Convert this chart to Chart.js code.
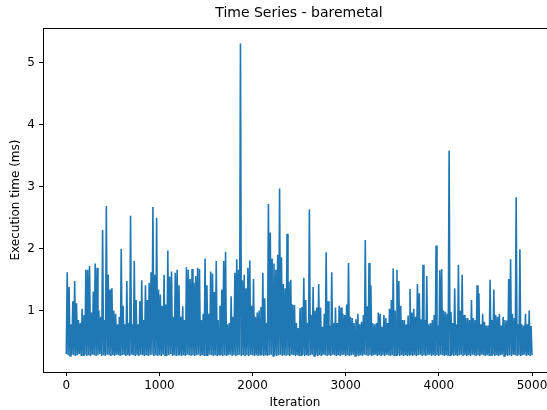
<!DOCTYPE html>
<html>
<head>
<meta charset="utf-8">
<script src="https://cdn.jsdelivr.net/npm/chart.js@4.4.1/dist/chart.umd.min.js"></script>
<style>
  html, body { margin: 0; padding: 0; background: #fff; }
  canvas { display: block; }
</style>
</head>
<body>
<canvas id="chart" width="547" height="410"></canvas>
<script>
// iteration step of one sample pair (trough at i*20, peak at i*20+10)
const step = 20;
const xTicks = [0, 1000, 2000, 3000, 4000, 5000];
const yTicks = [1, 2, 3, 4, 5];

// upper envelope, one value per 20 iterations (ms)
const peaks = [
  1.62, 1.38, 0.78, 1.15, 1.48, 1.12, 0.85, 0.80, 1.03, 0.93,
  1.66, 1.66, 1.72, 0.97, 1.31, 1.76, 1.69, 1.00, 0.90, 2.30,
  0.85, 2.69, 1.58, 1.34, 1.36, 1.00, 0.95, 0.78, 0.90, 2.00,
  1.08, 0.78, 1.48, 0.80, 2.53, 0.78, 1.80, 1.17, 0.78, 1.15,
  1.49, 0.85, 1.41, 1.17, 1.45, 1.62, 2.67, 1.58, 2.50, 1.34,
  1.26, 1.08, 1.58, 1.10, 1.97, 1.55, 1.63, 0.90, 1.61, 1.66,
  1.41, 0.90, 1.07, 0.85, 1.70, 1.66, 1.51, 1.67, 1.45, 1.56,
  1.69, 1.67, 0.85, 0.95, 1.84, 1.41, 0.95, 1.63, 1.60, 1.30,
  1.80, 0.85, 1.08, 1.34, 1.80, 1.95, 0.78, 0.80, 1.23, 0.90,
  1.61, 1.83, 1.66, 5.31, 1.49, 1.58, 1.36, 1.69, 1.81, 1.08,
  1.51, 0.90, 0.97, 1.00, 1.06, 1.61, 1.20, 0.80, 2.72, 2.26,
  1.84, 1.76, 1.66, 1.90, 2.97, 1.86, 1.43, 1.36, 2.24, 1.47,
  1.50, 1.10, 1.09, 0.80, 0.72, 1.04, 1.06, 1.53, 1.17, 0.80,
  2.63, 0.93, 1.38, 1.00, 1.05, 1.43, 1.05, 0.74, 0.95, 1.94,
  1.15, 0.76, 1.62, 0.80, 1.05, 0.80, 1.08, 1.05, 0.95, 0.93,
  1.10, 1.77, 0.90, 0.88, 0.80, 0.86, 0.95, 0.78, 0.82, 0.93,
  2.14, 1.07, 1.77, 1.41, 0.80, 0.78, 0.80, 0.97, 0.95, 0.74,
  0.93, 0.88, 0.80, 1.03, 1.17, 1.68, 1.00, 1.66, 1.48, 1.08,
  0.85, 0.85, 0.78, 0.92, 1.35, 0.97, 1.03, 0.90, 1.43, 1.28,
  0.86, 1.74, 0.85, 1.56, 0.78, 0.80, 0.85, 0.93, 2.05, 0.76,
  1.65, 1.67, 1.00, 0.98, 0.95, 3.58, 0.98, 0.80, 1.36, 0.78,
  1.74, 1.00, 1.58, 0.93, 0.88, 0.88, 0.85, 1.17, 0.88, 0.85,
  1.41, 1.28, 0.78, 0.95, 0.82, 0.76, 0.76, 1.50, 0.85, 1.34,
  0.93, 0.90, 0.95, 0.76, 0.90, 0.85, 0.84, 1.51, 1.83, 0.95,
  0.88, 2.83, 0.78, 1.99, 0.78, 0.76, 0.95, 0.78, 1.00, 0.75
];

// lower envelope, one value per 20 iterations (ms)
const troughs = [
  0.30, 0.28, 0.27, 0.29, 0.28, 0.27, 0.28, 0.30, 0.27, 0.28,
  0.29, 0.27, 0.28, 0.27, 0.29, 0.28, 0.27, 0.28, 0.30, 0.27,
  0.28, 0.27, 0.29, 0.28, 0.27, 0.28, 0.27, 0.29, 0.28, 0.27,
  0.28, 0.30, 0.27, 0.28, 0.27, 0.29, 0.28, 0.27, 0.28, 0.27,
  0.29, 0.28, 0.27, 0.28, 0.27, 0.28, 0.29, 0.27, 0.28, 0.27,
  0.28, 0.27, 0.29, 0.28, 0.27, 0.28, 0.30, 0.27, 0.28, 0.27,
  0.29, 0.28, 0.27, 0.28, 0.27, 0.29, 0.28, 0.27, 0.28, 0.27,
  0.28, 0.29, 0.27, 0.28, 0.27, 0.28, 0.27, 0.29, 0.28, 0.27,
  0.28, 0.27, 0.29, 0.28, 0.27, 0.28, 0.27, 0.28, 0.29, 0.27,
  0.28, 0.27, 0.28, 0.29, 0.27, 0.28, 0.27, 0.28, 0.27, 0.29,
  0.28, 0.27, 0.28, 0.27, 0.29, 0.28, 0.27, 0.28, 0.27, 0.28,
  0.29, 0.27, 0.28, 0.27, 0.28, 0.29, 0.27, 0.28, 0.27, 0.28,
  0.27, 0.29, 0.28, 0.27, 0.28, 0.27, 0.28, 0.29, 0.27, 0.28,
  0.27, 0.28, 0.29, 0.27, 0.28, 0.27, 0.28, 0.27, 0.29, 0.28,
  0.27, 0.28, 0.27, 0.29, 0.28, 0.27, 0.28, 0.27, 0.28, 0.29,
  0.27, 0.28, 0.27, 0.28, 0.29, 0.27, 0.28, 0.27, 0.28, 0.27,
  0.29, 0.28, 0.27, 0.28, 0.27, 0.28, 0.29, 0.27, 0.28, 0.27,
  0.28, 0.27, 0.29, 0.28, 0.27, 0.28, 0.27, 0.28, 0.29, 0.27,
  0.28, 0.27, 0.28, 0.27, 0.29, 0.28, 0.27, 0.28, 0.27, 0.28,
  0.29, 0.27, 0.28, 0.27, 0.28, 0.29, 0.27, 0.28, 0.27, 0.28,
  0.27, 0.29, 0.28, 0.27, 0.28, 0.27, 0.28, 0.29, 0.27, 0.28,
  0.27, 0.28, 0.29, 0.27, 0.28, 0.27, 0.28, 0.27, 0.29, 0.28,
  0.27, 0.28, 0.27, 0.29, 0.28, 0.27, 0.28, 0.27, 0.28, 0.29,
  0.27, 0.28, 0.27, 0.28, 0.29, 0.27, 0.28, 0.27, 0.28, 0.27,
  0.29, 0.28, 0.27, 0.28, 0.27, 0.28, 0.29, 0.27, 0.28, 0.27,
  0.28
];

// zigzag trough -> peak -> trough so the line fills the band like the original
const points = [];
for (let i = 0; i < troughs.length; i++) {
  points.push({ x: i * step, y: troughs[i] });
  if (i < peaks.length) points.push({ x: i * step + step / 2, y: peaks[i] });
}

const font = "'DejaVu Sans', sans-serif";

const frame = {
  id: 'frame',
  afterDraw(chart) {
    const { ctx, chartArea } = chart;
    ctx.save();
    ctx.strokeStyle = '#000';
    ctx.lineWidth = 1;
    ctx.beginPath();
    ctx.moveTo(chartArea.left, chartArea.top + 0.5);
    ctx.lineTo(chartArea.right, chartArea.top + 0.5);
    ctx.stroke();
    ctx.fillStyle = '#000';
    ctx.font = "14px " + font;
    ctx.textAlign = 'center';
    ctx.textBaseline = 'middle';
    ctx.fillText('Time Series - baremetal', 299, 13);
    ctx.restore();
  }
};

const ctx = document.getElementById('chart').getContext('2d');
const chart = new Chart(ctx, {
  type: 'line',
  data: {
    datasets: [{
      data: points,
      borderColor: '#1f77b4',
      borderWidth: 1.6,
      pointRadius: 0,
      tension: 0,
      fill: false
    }]
  },
  options: {
    responsive: false,
    animation: false,
    layout: { padding: { top: 28, right: 0, left: 0, bottom: 0 } },
    plugins: {
      legend: { display: false },
      title: { display: false },
      tooltip: { enabled: false }
    },
    scales: {
      x: {
        type: 'linear',
        min: -250,
        max: 5161,
        afterBuildTicks: axis => { axis.ticks = xTicks.map(v => ({ value: v })); },
        afterFit: axis => { axis.height = 38; axis.paddingRight = 0; },
        grid: { drawOnChartArea: false, drawTicks: true, tickLength: 4, color: '#000' },
        border: { display: true, color: '#000', width: 1 },
        ticks: {
          color: '#000', padding: 3, maxRotation: 0, autoSkip: false,
          font: { family: font, size: 12 },
          callback: v => String(v)
        },
        title: { display: true, text: 'Iteration', color: '#000', padding: { top: 3, bottom: 0 }, font: { family: font, size: 12 } }
      },
      y: {
        type: 'linear',
        min: 0.01,
        max: 5.56,
        afterBuildTicks: axis => { axis.ticks = yTicks.map(v => ({ value: v })); },
        afterFit: axis => { axis.width = 43; },
        grid: { drawOnChartArea: false, drawTicks: true, tickLength: 4, color: '#000' },
        border: { display: true, color: '#000', width: 1 },
        ticks: { color: '#000', padding: 4, font: { family: font, size: 12 } },
        title: { display: true, text: 'Execution time (ms)', color: '#000', padding: { top: 9, bottom: 0 }, font: { family: font, size: 12 } }
      }
    }
  },
  plugins: [frame]
});
</script>
</body>
</html>
